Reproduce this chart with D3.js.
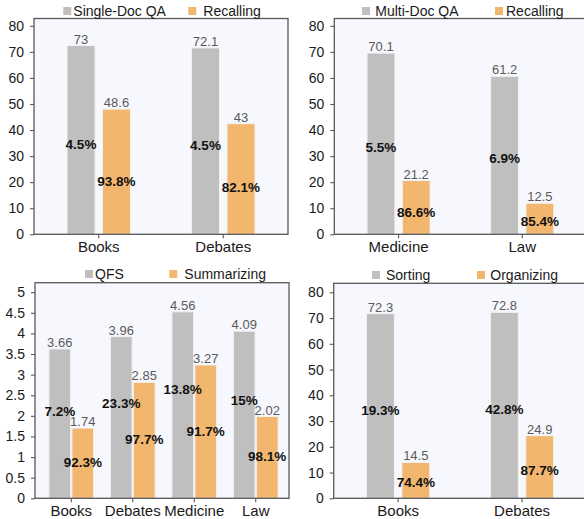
<!DOCTYPE html>
<html>
<head>
<meta charset="utf-8">
<script src="https://cdn.jsdelivr.net/npm/d3@7"></script>
<style>
  html, body { margin: 0; padding: 0; background: #fff; }
  svg { display: block; }
  text { font-family: "Liberation Sans", Arial, Helvetica, sans-serif; }
</style>
</head>
<body>
<svg id="chart" width="584" height="519"></svg>
<script>
// ---------------- DATA ----------------
// Panel A (top-left)
const catsA = ["Books", "Debates"];
const singleDocQA = [73, 72.1];
const recallingA = [48.6, 43];
const pctSingleDocQA = ["4.5%", "4.5%"];
const pctRecallingA = ["93.8%", "82.1%"];

// Panel B (top-right)
const catsB = ["Medicine", "Law"];
const multiDocQA = [70.1, 61.2];
const recallingB = [21.2, 12.5];
const pctMultiDocQA = ["5.5%", "6.9%"];
const pctRecallingB = ["86.6%", "85.4%"];

// Panel C (bottom-left)
const catsC = ["Books", "Debates", "Medicine", "Law"];
const qfs = [3.66, 3.96, 4.56, 4.09];
const summarizing = [1.74, 2.85, 3.27, 2.02];
const pctQFS = ["7.2%", "23.3%", "13.8%", "15%"];
const pctSummarizing = ["92.3%", "97.7%", "91.7%", "98.1%"];

// Panel D (bottom-right)
const catsD = ["Books", "Debates"];
const sorting = [72.3, 72.8];
const organizing = [14.5, 24.9];
const pctSorting = ["19.3%", "42.8%"];
const pctOrganizing = ["74.4%", "87.7%"];

// Tick labels
const yTicks80 = [0, 10, 20, 30, 40, 50, 60, 70, 80];
const yTicks5 = [0, 0.5, 1, 1.5, 2, 2.5, 3, 3.5, 4, 4.5, 5];

// ---------------- STYLE / LAYOUT ----------------
const GRAY = "#bfbfbf";
const ORANGE = "#f2b66e";
const BG = "#f7f8fd";
const FRAME = "#585858";

const panels = [
  { cats: catsA, names: ["Single-Doc QA", "Recalling"], v: [singleDocQA, recallingA],
    p: [pctSingleDocQA, pctRecallingA], ticks: yTicks80, yMax: 82.8,
    box: { x0: 34, x1: 288, y0: 18.5, y1: 234.3 }, xr: [34, 288], pad: 0.02,
    bw: 0.225, off: 0.1425, frac: [0.475, 0.42],
    leg: { sq: [63.3, 188.3], tx: [73.3, 203.3], sy: 7, ty: 15.7 } },
  { cats: catsB, names: ["Multi-Doc QA", "Recalling"], v: [multiDocQA, recallingB],
    p: [pctMultiDocQA, pctRecallingB], ticks: yTicks80, yMax: 82.8,
    box: { x0: 334.3, x1: 587, y0: 18.5, y1: 234.3 }, xr: [334.3, 586.5], pad: 0.02,
    bw: 0.225, off: 0.1425, frac: [0.475, 0.40],
    leg: { sq: [362, 495], tx: [375.3, 506], sy: 7, ty: 15.7 } },
  { cats: catsC, names: ["QFS", "Summarizing"], v: [qfs, summarizing],
    p: [pctQFS, pctSummarizing], ticks: yTicks5, yMax: 5.23,
    box: { x0: 35, x1: 289, y0: 282.7, y1: 498.3 }, xr: [35, 292], pad: 0.09,
    bw: 0.353, off: 0.187, frac: [0.58, 0.50],
    leg: { sq: [85, 169.3], tx: [95, 184.3], sy: 270, ty: 279 } },
  { cats: catsD, names: ["Sorting", "Organizing"], v: [sorting, organizing],
    p: [pctSorting, pctOrganizing], ticks: yTicks80, yMax: 83.5,
    box: { x0: 333.7, x1: 587, y0: 283.3, y1: 498.3 }, xr: [333.7, 586.5], pad: 0.02,
    bw: 0.225, off: 0.1425, frac: [0.475, 0.44],
    leg: { sq: [372, 477], tx: [386, 490.3], sy: 271, ty: 280 } }
];

const svg = d3.select("#chart");
svg.append("rect").attr("width", 584).attr("height", 519).attr("fill", "#fff");

panels.forEach(P => {
  const g = svg.append("g");
  const b = P.box;
  const x = d3.scaleBand().domain(P.cats).range(P.xr).paddingInner(0).paddingOuter(P.pad);
  const y = d3.scaleLinear().domain([0, P.yMax]).range([b.y1, b.y0]);
  const step = x.step();
  const bw = step * P.bw;
  const off = step * P.off;
  const colors = [GRAY, ORANGE];

  // background
  g.append("rect").attr("x", b.x0).attr("y", b.y0)
    .attr("width", b.x1 - b.x0).attr("height", b.y1 - b.y0)
    .attr("fill", BG);

  const barLayer = g.append("g");
  const labelLayer = g.append("g");

  [0, 1].forEach(s => {
    const cx = c => x(c) + x.bandwidth() / 2 + (s === 0 ? -off : off);
    const rows = P.cats.map((c, i) => ({ c, v: P.v[s][i], p: P.p[s][i] }));

    // bars
    barLayer.selectAll(null).data(rows).enter().append("rect")
      .attr("x", d => cx(d.c) - bw / 2)
      .attr("y", d => y(d.v) + 1.5)
      .attr("width", bw)
      .attr("height", d => y(0) - y(d.v) - 1.5)
      .attr("fill", colors[s])
      .attr("stroke", "#f1f1f1")
      .attr("stroke-width", 1);

    // value labels
    labelLayer.selectAll(null).data(rows).enter().append("text")
      .attr("x", d => cx(d.c))
      .attr("y", d => y(d.v) - 0.5)
      .attr("text-anchor", "middle")
      .attr("font-size", 13)
      .attr("fill", "#5a5a5a")
      .text(d => String(d.v));

    // percent labels
    labelLayer.selectAll(null).data(rows).enter().append("text")
      .attr("x", d => cx(d.c))
      .attr("y", d => y(d.v * P.frac[s]))
      .attr("dy", "0.35em")
      .attr("text-anchor", "middle")
      .attr("font-size", 13.5)
      .attr("font-weight", "bold")
      .attr("fill", "#111")
      .text(d => d.p);
  });

  // frame
  g.append("rect").attr("x", b.x0).attr("y", b.y0)
    .attr("width", b.x1 - b.x0).attr("height", b.y1 - b.y0)
    .attr("fill", "none").attr("stroke", FRAME).attr("stroke-width", 1.3);

  // y axis
  const ya = g.append("g").attr("transform", `translate(${b.x0},0)`)
    .call(d3.axisLeft(y).tickValues(P.ticks).tickSize(4).tickPadding(6).tickFormat(d => String(d)));
  ya.select(".domain").remove();
  ya.selectAll("line").attr("stroke", FRAME).attr("stroke-width", 1.1);
  ya.selectAll("text").attr("font-size", 14).attr("fill", "#1a1a1a")
    .style("font-family", '"Liberation Sans", Arial, sans-serif');

  // x axis
  const xa = g.append("g").attr("transform", `translate(0,${b.y1})`)
    .call(d3.axisBottom(x).tickSize(4).tickPadding(3));
  xa.select(".domain").remove();
  xa.selectAll("line").attr("stroke", FRAME).attr("stroke-width", 1.1);
  xa.selectAll("text").attr("font-size", 15).attr("fill", "#1a1a1a")
    .style("font-family", '"Liberation Sans", Arial, sans-serif');

  // legend
  [0, 1].forEach(s => {
    g.append("rect").attr("x", P.leg.sq[s]).attr("y", P.leg.sy)
      .attr("width", 8).attr("height", 8).attr("fill", colors[s]);
    g.append("text").attr("x", P.leg.tx[s]).attr("y", P.leg.ty)
      .attr("font-size", 14).attr("fill", "#1a1a1a")
      .text(P.names[s]);
  });
});
</script>
</body>
</html>
